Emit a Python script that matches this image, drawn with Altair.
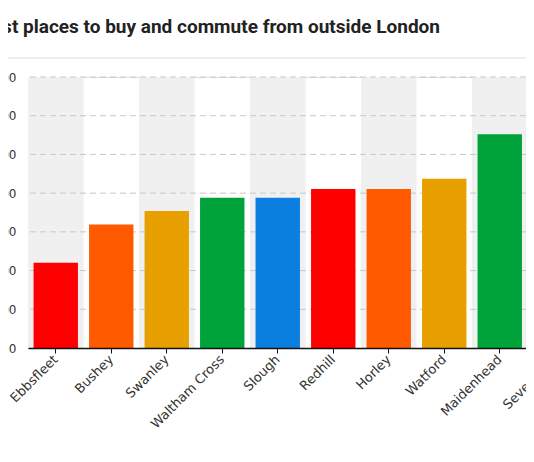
import altair as alt
import pandas as pd

places = ["Ebbsfleet", "Bushey", "Swanley", "Waltham Cross", "Slough",
          "Redhill", "Horley", "Watford", "Maidenhead", "Sevenoaks"]
prices = [220000, 319000, 354000, 388000, 388000,
          411000, 411000, 437000, 552000, 662000]
bar_colors = ["#ff0000", "#ff5a00", "#e8a000", "#00a23a", "#0a7fe0",
              "#ff0000", "#ff5a00", "#e8a000", "#00a23a", "#0a7fe0"]
shaded = [1, 0, 1, 0, 1, 0, 1, 0, 1, 0]
tick_values = [0, 100000, 200000, 300000, 400000, 500000, 600000, 700000]
grid_values = tick_values[1:]
y_max = 700000
title_text = "Cheapest places to buy and commute from outside London"

df = pd.DataFrame({"place": places, "price": prices, "shade": shaded,
                   "top": [y_max] * len(places), "bottom": [0] * len(places)})
grid_df = pd.DataFrame({"v": grid_values})

label_font = "DejaVu Sans"

x_enc = alt.X(
    "place:N", sort=places, title=None,
    scale=alt.Scale(range=[0, 555], paddingInner=0, paddingOuter=0),
    axis=alt.Axis(labelAngle=-45, labelAlign="right", labelBaseline="middle",
                  labelFont=label_font, labelFontSize=13, labelColor="#333",
                  labelPadding=4, domainColor="#111", domainWidth=1.5,
                  tickColor="#111", tickSize=5, grid=False),
)
y_scale = alt.Scale(domain=[0, y_max], nice=False)
y_axis = alt.Axis(values=tick_values, format="d", domain=False, ticks=False,
                  grid=False, labelPadding=12, labelFont=label_font,
                  labelFontSize=12, labelColor="#333")

bg = alt.Chart(df).transform_filter("datum.shade == 1").mark_rect(
    color="#f0f0f0"
).encode(
    x=x_enc,
    y=alt.Y("top:Q", scale=y_scale, axis=y_axis, title=None),
    y2="bottom:Q",
)

grid = alt.Chart(grid_df).mark_rule(
    color="#c8c8c8", strokeDash=[6, 4], strokeWidth=1
).encode(
    y=alt.Y("v:Q", scale=y_scale, axis=y_axis, title=None),
)

bars = alt.Chart(df).mark_bar(width={"band": 0.8}).encode(
    x=x_enc,
    y=alt.Y("price:Q", scale=y_scale, axis=y_axis, title=None),
    color=alt.Color("place:N", scale=alt.Scale(domain=places, range=bar_colors),
                    legend=None),
)

sep = alt.Chart(pd.DataFrame({"a": [0]})).mark_rule(
    color="#dddddd", strokeWidth=1
).encode(
    x=alt.value(-28), x2=alt.value(498), y=alt.value(-19),
)

chart = alt.layer(bg, grid, bars, sep).properties(
    width=498,
    height=271,
    padding={"left": 20, "top": 69, "right": 0, "bottom": 100},
    autosize=alt.AutoSizeParams(type="none"),
    title=alt.TitleParams(
        text=title_text, anchor="end", frame="group", dx=-86, offset=6,
        fontSize=19, font="Roboto",
        fontWeight="bold", color="#222", baseline="alphabetic",
    ),
).configure_view(stroke=None).configure(background="white")

chart.save("out.html", embed_options={"renderer": "svg", "actions": False})
